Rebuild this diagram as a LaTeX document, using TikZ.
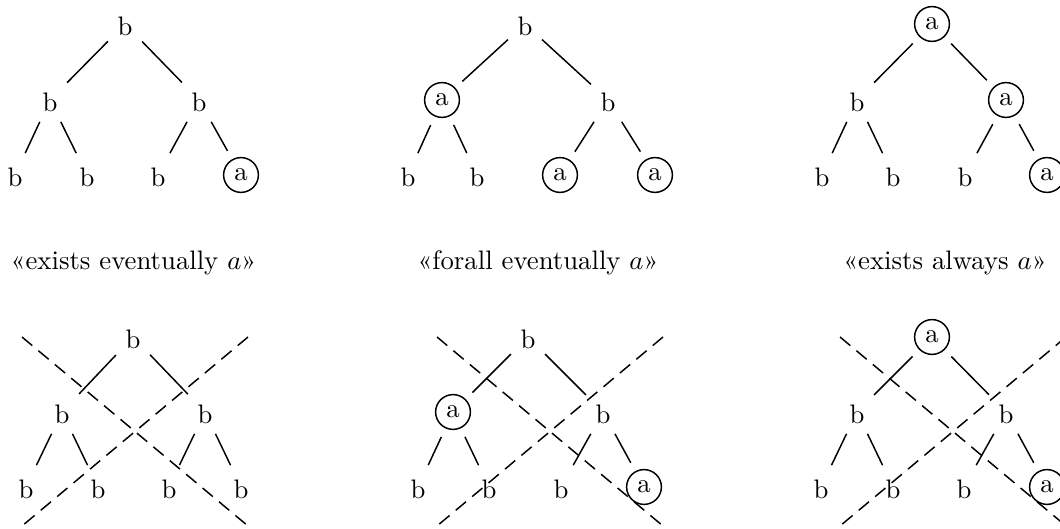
\documentclass[tikz,border=0pt]{standalone}
\begin{document}
\begin{tikzpicture}[x=0.37383pt,y=-0.37383pt, line width=0.55pt,
  bn/.style={inner sep=0.333em, text height=9pt},
  an/.style={circle, draw, inner sep=2.2pt, outer sep=3.8pt},
  lbl/.style={inner sep=0pt},
  cross/.style={dash pattern=on 5pt off 3pt}]
\clip (0,0) rectangle (1060,529);
% ---------- tree A ----------
\node[bn] (A0) at (125,24) {b};
\node[bn] (A1) at (50,100) {b};
\node[bn] (A2) at (199,100) {b};
\node[bn] (A3) at (15,175) {b};
\node[bn] (A4) at (87,175) {b};
\node[bn] (A5) at (158,175) {b};
\node[an] (A6) at (241,175) {a};
\draw (A0) -- (A1); \draw (A0) -- (A2);
\draw (A1) -- (A3); \draw (A1) -- (A4);
\draw (A2) -- (A5); \draw (A2) -- (A6);
% ---------- tree B ----------
\node[bn] (B0) at (525,24) {b};
\node[an] (B1) at (442,100) {a};
\node[bn] (B2) at (608,100) {b};
\node[bn] (B3) at (408,175) {b};
\node[bn] (B4) at (477,175) {b};
\node[an] (B5) at (560,175) {a};
\node[an] (B6) at (655,175) {a};
\draw (B0) -- (B1); \draw (B0) -- (B2);
\draw (B1) -- (B3); \draw (B1) -- (B4);
\draw (B2) -- (B5); \draw (B2) -- (B6);
% ---------- tree C ----------
\node[an] (C0) at (932,24) {a};
\node[bn] (C1) at (857,100) {b};
\node[an] (C2) at (1006,100) {a};
\node[bn] (C3) at (822,175) {b};
\node[bn] (C4) at (893,175) {b};
\node[bn] (C5) at (965,175) {b};
\node[an] (C6) at (1047,175) {a};
\draw (C0) -- (C1); \draw (C0) -- (C2);
\draw (C1) -- (C3); \draw (C1) -- (C4);
\draw (C2) -- (C5); \draw (C2) -- (C6);
% ---------- labels ----------
\node[lbl] (L1) at (133.5,263) {«exists eventually $a$»};
\node[lbl] (L2) at (538,263) {«forall eventually $a$»};
\node[lbl] (L3) at (945,263) {«exists always $a$»};
% ---------- tree D ----------
\node[bn] (D0) at (133,337) {b};
\node[bn] (D1) at (62,412) {b};
\node[bn] (D2) at (205,412) {b};
\node[bn] (D3) at (26,487) {b};
\node[bn] (D4) at (98,487) {b};
\node[bn] (D5) at (169,487) {b};
\node[bn] (D6) at (241,487) {b};
\draw (D0) -- (D1); \draw (D0) -- (D2);
\draw (D1) -- (D3); \draw (D1) -- (D4);
\draw (D2) -- (D5); \draw (D2) -- (D6);
\coordinate (D7) at (22,337); \coordinate (D8) at (248,526);
\coordinate (D9) at (248,337); \coordinate (D10) at (22,526);
\draw[cross] (D7) -- (D8);
\draw[cross] (D9) -- (D10);
% ---------- tree E ----------
\node[bn] (E0) at (528,337) {b};
\node[an] (E1) at (453,412) {a};
\node[bn] (E2) at (603,412) {b};
\node[bn] (E3) at (418,487) {b};
\node[bn] (E4) at (489,487) {b};
\node[bn] (E5) at (561,487) {b};
\node[an] (E6) at (644,487) {a};
\draw (E0) -- (E1); \draw (E0) -- (E2);
\draw (E1) -- (E3); \draw (E1) -- (E4);
\draw (E2) -- (E5); \draw (E2) -- (E6);
\coordinate (E7) at (437,337); \coordinate (E8) at (663,526);
\coordinate (E9) at (663,337); \coordinate (E10) at (437,526);
\draw[cross] (E7) -- (E8);
\draw[cross] (E9) -- (E10);
% ---------- tree F ----------
\node[an] (F0) at (932,337) {a};
\node[bn] (F1) at (857,412) {b};
\node[bn] (F2) at (1006,412) {b};
\node[bn] (F3) at (821,487) {b};
\node[bn] (F4) at (893,487) {b};
\node[bn] (F5) at (964,487) {b};
\node[an] (F6) at (1047,487) {a};
\draw (F0) -- (F1); \draw (F0) -- (F2);
\draw (F1) -- (F3); \draw (F1) -- (F4);
\draw (F2) -- (F5); \draw (F2) -- (F6);
\coordinate (F7) at (840,337); \coordinate (F8) at (1066,526);
\coordinate (F9) at (1066,337); \coordinate (F10) at (840,526);
\draw[cross] (F7) -- (F8);
\draw[cross] (F9) -- (F10);
\end{tikzpicture}
\end{document}
